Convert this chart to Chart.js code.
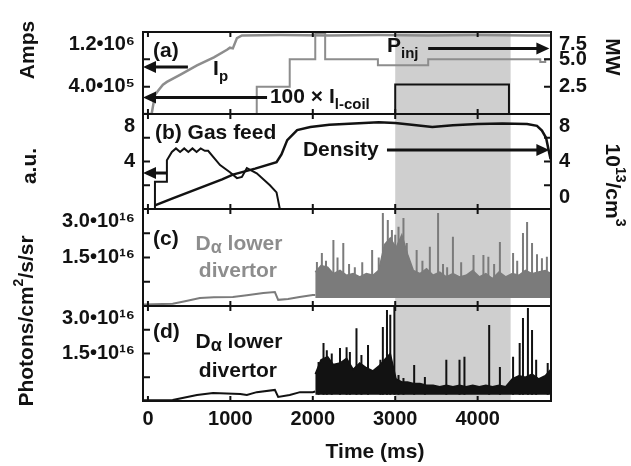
<!DOCTYPE html>
<html>
<head>
<meta charset="utf-8">
<script src="https://cdn.jsdelivr.net/npm/chart.js@4.4.1/dist/chart.umd.min.js"></script>
<style>
  body { margin: 0; background: #fff; }
  #wrap { position: relative; width: 631px; height: 466px; }
  #wrap canvas { position: absolute; left: 0; top: 0; }
</style>
</head>
<body>
<div id="wrap">
  <canvas id="pa" width="631" height="466"></canvas>
  <canvas id="pb" width="631" height="466"></canvas>
  <canvas id="pc" width="631" height="466"></canvas>
  <canvas id="pd" width="631" height="466"></canvas>
</div>
<script>
const FAM = "'Liberation Sans', Arial, Helvetica, sans-serif"
const INK = '#121212'
const GRAY = '#8d8d8d'
const DGRAY = '#7b7b7b'
const SHADE = '#cfcfcf'

// time axis (ms), shared by the four panels
const timeRange = [-60, 4890]
const timeTicks = [0, 1000, 2000, 3000, 4000]
const shadeWindow = [3000, 4400]

// (a) plasma current, injected power, 100 x I-coil current
const ipTime = [-60, 45, 85, 130, 182, 230, 400, 595, 800, 959, 995, 1030, 1080, 1140, 1600, 2200, 2800, 3400, 4000, 4600, 4890]
const ipAmps = [0, 0, 280000, 350000, 430000, 470000, 580000, 710000, 830000, 940000, 970000, 960000, 1110000, 1150000, 1155000, 1150000, 1155000, 1150000, 1155000, 1150000, 1150000]
const pinjTime = [-60, 1320, 1720, 2030, 2150, 2790, 3400, 4760, 4820, 4890]
const pinjMW = [0, 2.5, 5.0, 7.4, 5.0, 4.45, 5.0, 4.75, 5.0, 5.0]
const icoilTime = [-60, 3000, 4380, 4890]
const icoil100 = [0, 430000, 0, 0]
const ampsTicks = [0, 400000, 800000, 1200000]
const ampsLabels = ['', '4.0•10⁵', '', '1.2•10⁶']
const mwTicks = [0, 2.5, 5, 7.5]
const mwLabels = ['', '2.5', '5.0', '7.5']

// (b) gas feed (a.u.) and line density (10^13/cm^3)
const gasTime = [-60, 85, 85, 230, 230, 290, 340, 390, 440, 490, 540, 590, 640, 690, 730, 875, 995, 1080, 1140, 1200, 1320, 1480, 1560, 1600, 4890]
const gasFeed = [0, 0, 2.3, 2.3, 4.1, 4.8, 5.1, 4.8, 5.1, 4.8, 5.1, 4.8, 5.1, 4.9, 4.9, 3.7, 3.1, 2.6, 2.7, 3.45, 3.0, 2.0, 1.4, 0, 0]
const denTime = [85, 300, 600, 900, 1030, 1300, 1560, 1620, 1690, 1810, 1970, 2200, 2500, 2800, 3000, 3200, 3450, 3700, 4000, 4300, 4600, 4720, 4780, 4830, 4860, 4885]
const density = [0.3, 0.9, 1.7, 2.5, 2.9, 3.4, 3.95, 4.6, 5.8, 6.65, 6.9, 7.1, 7.2, 7.3, 7.25, 7.1, 6.9, 7.05, 7.15, 7.2, 7.15, 7.0, 6.6, 6.0, 5.0, 4.2]
const auTicks = [0, 2, 4, 6, 8]
const auLabels = ['', '', '4', '', '8']
const denLabels = ['0', '', '4', '', '8']

// (c), (d) D-alpha lower divertor, in units of 10^16 photons/cm^2/s/sr
const phTicks = [0, 0.75, 1.5, 2.25, 3]
const phLabels = ['', '', '1.5•10¹⁶', '', '3.0•10¹⁶']
const cBaseTime = [-60, 300, 450, 630, 800, 1030, 1200, 1400, 1540, 1580, 1700, 1840, 2000, 2030]
const cBase = [0.05, 0.07, 0.15, 0.25, 0.27, 0.28, 0.33, 0.4, 0.43, 0.19, 0.22, 0.28, 0.34, 0.34]
const dBaseTime = [-60, 300, 595, 790, 1120, 1200, 1320, 1540, 1580, 1720, 1845, 2000, 2030]
const dBase = [0.02, 0.03, 0.19, 0.25, 0.22, 0.19, 0.28, 0.35, 0.13, 0.19, 0.28, 0.28, 0.3]
const bandTime = [2030, 2100, 2180, 2250, 2330, 2410, 2490, 2570, 2650, 2730, 2800, 2870, 2940, 3010, 3080, 3150, 3220, 3300, 3380, 3460, 3540, 3620, 3700, 3780, 3860, 3940, 4020, 4100, 4180, 4260, 4340, 4420, 4500, 4580, 4660, 4740, 4820, 4890]
const cBandTop = [1.05, 1.25, 1.2, 1.0, 1.1, 0.95, 1.0, 0.9, 1.0, 0.95, 1.1, 1.9, 2.1, 1.8, 2.2, 1.6, 1.1, 1.0, 1.15, 0.95, 1.05, 0.9, 1.0, 0.9, 0.95, 1.1, 0.9, 1.0, 0.85, 1.05, 0.9, 1.0, 0.95, 1.1, 1.0, 1.05, 1.1, 1.0]
const dBandTop = [0.85, 1.3, 1.4, 1.15, 1.2, 1.35, 1.0, 1.2, 1.05, 0.95, 1.1, 1.3, 1.5, 0.7, 0.6, 0.6, 0.55, 0.55, 0.5, 0.5, 0.45, 0.5, 0.45, 0.5, 0.45, 0.5, 0.45, 0.5, 0.45, 0.5, 0.45, 0.7, 0.8, 0.75, 0.85, 0.7, 0.8, 1.0]
const cFloor = 0.25
const dFloor = 0.2
const cSpikeTime = [2050, 2110, 2160, 2250, 2300, 2370, 2440, 2510, 2600, 2720, 2800, 2850, 2910, 2960, 3000, 3040, 3100, 3140, 3260, 3330, 3420, 3520, 3580, 3630, 3700, 3800, 3950, 4070, 4130, 4200, 4270, 4430, 4480, 4550, 4600, 4660, 4720, 4780, 4840]
const cSpikePeak = [1.36, 1.64, 1.4, 2.04, 1.5, 1.95, 1.3, 1.2, 1.35, 1.73, 1.5, 2.88, 2.66, 2.35, 2.2, 2.45, 2.72, 1.95, 1.73, 1.4, 1.83, 2.88, 1.3, 1.2, 2.14, 1.35, 1.58, 1.58, 1.52, 1.3, 1.98, 1.64, 1.4, 2.26, 2.6, 1.95, 1.6, 1.48, 1.52]
const dSpikeTime = [2070, 2130, 2170, 2230, 2330, 2410, 2450, 2530, 2590, 2670, 2820, 2850, 2900, 2940, 2990, 3040, 3100, 3230, 3360, 3620, 3780, 3840, 4140, 4270, 4430, 4510, 4550, 4610, 4660, 4710, 4850]
const dSpikePeak = [1.23, 1.83, 1.6, 1.5, 1.67, 1.7, 1.55, 2.3, 1.45, 1.77, 1.3, 2.34, 2.87, 2.72, 3.2, 0.82, 0.73, 1.14, 0.76, 1.3, 1.3, 1.4, 2.4, 1.07, 1.4, 1.83, 2.62, 2.94, 2.24, 1.3, 1.2]

const pts = (xs, ys) => xs.map((x, i) => ({ x, y: ys[i] }))
const spikes = (ts, peaks, floor) => ts.flatMap((t, i) => [{ x: t, y: floor }, { x: t, y: peaks[i] }, { x: t, y: null }])
const tickFont = { family: FAM, size: 20, weight: 'bold' }

// labels sitting on a panel edge are nudged inside the panel, as in the figure
function edgeLabel(labels, i) {
  const s = labels[i]
  if (!s) return ''
  if (i === labels.length - 1) return ['', s]
  if (i === 0) return [s, '']
  return s
}

function yAxis(position, max, ticks, labels, width) {
  return {
    type: 'linear', position, min: 0, max,
    afterBuildTicks: s => { s.ticks = ticks.map(value => ({ value })) },
    afterFit: s => { s.width = width },
    grid: { display: false, drawTicks: false },
    border: { display: false },
    ticks: { color: INK, font: tickFont, padding: 8, autoSkip: false, callback: (v, i) => edgeLabel(labels, i) }
  }
}

function xAxis(show) {
  return {
    type: 'linear', min: timeRange[0], max: timeRange[1], display: show,
    afterBuildTicks: s => { s.ticks = timeTicks.map(value => ({ value })) },
    afterFit: s => { if (show) s.height = 65 },
    grid: { display: false, drawTicks: false },
    border: { display: false },
    ticks: { color: INK, font: tickFont, padding: 6, autoSkip: false, maxRotation: 0, callback: v => String(v) }
  }
}

const SIZES = { n: [21, 0], sub: [15, 7], sup: [14, -8], alpha: [18, 4] }
function rich(ctx, parts, x, y, align, color) {
  let w = 0
  parts.forEach(([t, k]) => { ctx.font = `bold ${SIZES[k][0]}px ${FAM}`; w += ctx.measureText(t).width })
  let cx = align === 'center' ? x - w / 2 : x
  ctx.textAlign = 'left'
  ctx.textBaseline = 'middle'
  ctx.fillStyle = color
  parts.forEach(([t, k]) => {
    ctx.font = `bold ${SIZES[k][0]}px ${FAM}`
    ctx.fillText(t, cx, y + SIZES[k][1])
    cx += ctx.measureText(t).width
  })
}

function arrow(ctx, x1, x2, y) {
  const dir = Math.sign(x2 - x1)
  ctx.beginPath()
  ctx.moveTo(x1, y); ctx.lineTo(x2 - dir * 8, y)
  ctx.lineWidth = 3
  ctx.stroke()
  ctx.beginPath()
  ctx.moveTo(x2, y); ctx.lineTo(x2 - dir * 13, y - 6); ctx.lineTo(x2 - dir * 13, y + 6)
  ctx.closePath()
  ctx.fill()
}

function deco(spec) {
  return {
    id: 'deco',
    beforeDatasetsDraw(chart) {
      const { ctx, chartArea: a, scales: { x } } = chart
      const x0 = x.getPixelForValue(shadeWindow[0]), x1 = x.getPixelForValue(shadeWindow[1])
      ctx.save()
      ctx.fillStyle = SHADE
      ctx.fillRect(x0, a.top, x1 - x0, a.bottom - a.top)
      ctx.restore()
    },
    afterDatasetsDraw(chart) {
      const { ctx, chartArea: a, scales } = chart
      ctx.save()
      ctx.strokeStyle = INK
      ctx.fillStyle = INK
      ctx.lineWidth = 2
      ctx.beginPath()
      timeTicks.forEach(t => {
        const px = scales.x.getPixelForValue(t)
        ctx.moveTo(px, a.top); ctx.lineTo(px, a.top + 5)
        ctx.moveTo(px, a.bottom); ctx.lineTo(px, a.bottom - 5)
      })
      Object.values(scales).filter(s => s.axis === 'y').forEach(s => {
        const edge = s.position === 'left' ? a.left : a.right
        const dir = s.position === 'left' ? 1 : -1
        s.ticks.forEach(tk => {
          if (tk.value <= s.min || tk.value >= s.max) return
          const py = s.getPixelForValue(tk.value)
          ctx.moveTo(edge, py); ctx.lineTo(edge + dir * 7, py)
        })
      })
      ctx.stroke()
      ctx.strokeRect(a.left, a.top, a.right - a.left, a.bottom - a.top)
      ;(spec.arrows || []).forEach(ar => {
        const y = scales[ar.axis].getPixelForValue(ar.v)
        arrow(ctx, scales.x.getPixelForValue(ar.from), scales.x.getPixelForValue(ar.to), y)
      })
      ;(spec.notes || []).forEach(n => {
        rich(ctx, n.parts, scales.x.getPixelForValue(n.t), scales[n.axis].getPixelForValue(n.v), n.align || 'left', n.color || INK)
      })
      ;(spec.titles || []).forEach(tt => {
        ctx.save()
        ctx.translate(tt.x, tt.y)
        ctx.rotate(tt.rot)
        rich(ctx, tt.parts, 0, 0, 'center', INK)
        ctx.restore()
      })
      ctx.restore()
    }
  }
}

function panel(id, top, bottom, right, scales, datasets, spec) {
  return new Chart(document.getElementById(id), {
    type: 'line',
    data: { datasets },
    options: {
      responsive: false,
      animation: false,
      events: [],
      layout: { padding: { top, bottom, left: 0, right } },
      elements: { point: { radius: 0 }, line: { tension: 0 } },
      plugins: { legend: { display: false }, tooltip: { enabled: false } },
      scales
    },
    plugins: [deco(spec)]
  })
}

const R = Math.PI / 2

panel('pa', 20, 352, 0,
  { x: xAxis(false), y: yAxis('left', 1200000, ampsTicks, ampsLabels, 143), y2: yAxis('right', 7.5, mwTicks, mwLabels, 80) },
  [
    { label: 'I_p', data: pts(ipTime, ipAmps), yAxisID: 'y', borderColor: GRAY, borderWidth: 2.5 },
    { label: 'P_inj', data: pts(pinjTime, pinjMW), yAxisID: 'y2', stepped: true, borderColor: GRAY, borderWidth: 2 },
    { label: '100 x I_l-coil', data: pts(icoilTime, icoil100), yAxisID: 'y', stepped: true, borderColor: INK, borderWidth: 2 }
  ],
  {
    notes: [
      { parts: [['(a)', 'n']], t: 61, v: 920000, axis: 'y' },
      { parts: [['I', 'n'], ['p', 'sub']], t: 790, v: 650000, axis: 'y' },
      { parts: [['100 × I', 'n'], ['l-coil', 'sub']], t: 1480, v: 243000, axis: 'y' },
      { parts: [['P', 'n'], ['inj', 'sub']], t: 2900, v: 985000, axis: 'y' }
    ],
    arrows: [
      { from: 485, to: -60, v: 689000, axis: 'y' },
      { from: 1445, to: -60, v: 243000, axis: 'y' },
      { from: 3400, to: 4870, v: 957000, axis: 'y' }
    ],
    titles: [
      { parts: [['Amps', 'n']], x: 28, y: 50, rot: -R },
      { parts: [['MW', 'n']], x: 612, y: 57, rot: R }
    ]
  })

panel('pb', 114, 257, 0,
  { x: xAxis(false), y: yAxis('left', 8, auTicks, auLabels, 143), y2: yAxis('right', 8, auTicks, denLabels, 80) },
  [
    { label: 'Gas feed', data: pts(gasTime, gasFeed), yAxisID: 'y', borderColor: INK, borderWidth: 2 },
    { label: 'Density', data: pts(denTime, density), yAxisID: 'y2', borderColor: INK, borderWidth: 2.5 }
  ],
  {
    notes: [
      { parts: [['(b) Gas feed', 'n']], t: 85, v: 6.4, axis: 'y' },
      { parts: [['Density', 'n']], t: 1880, v: 4.97, axis: 'y2' }
    ],
    arrows: [
      { from: 230, to: -60, v: 3.03, axis: 'y' },
      { from: 2900, to: 4870, v: 4.97, axis: 'y2' }
    ],
    titles: [
      { parts: [['a.u.', 'n']], x: 30, y: 166, rot: -R },
      { parts: [['10', 'n'], ['13', 'sup'], ['/cm', 'n'], ['3', 'sup']], x: 612, y: 185, rot: R }
    ]
  })

panel('pc', 209, 160, 80,
  { x: xAxis(false), y: yAxis('left', 3, phTicks, phLabels, 143) },
  [
    { label: 'D-alpha base', data: pts(cBaseTime, cBase), borderColor: DGRAY, borderWidth: 2 },
    { label: 'D-alpha band', data: pts(bandTime, cBandTop), borderColor: DGRAY, borderWidth: 1.5, backgroundColor: DGRAY, fill: { value: cFloor } },
    { label: 'D-alpha spikes', data: spikes(cSpikeTime, cSpikePeak, cFloor), borderColor: DGRAY, borderWidth: 2 }
  ],
  {
    notes: [
      { parts: [['(c)', 'n']], t: 61, v: 2.07, axis: 'y' },
      { parts: [['D', 'n'], ['α', 'alpha'], [' lower', 'n']], t: 1104, v: 1.92, axis: 'y', align: 'center', color: GRAY },
      { parts: [['divertor', 'n']], t: 1092, v: 1.08, axis: 'y', align: 'center', color: GRAY }
    ],
    titles: [
      { parts: [['Photons/cm', 'n'], ['2', 'sup'], ['/s/sr', 'n']], x: 27, y: 321, rot: -R }
    ]
  })

panel('pd', 306, 0, 80,
  { x: xAxis(true), y: yAxis('left', 3, phTicks, phLabels, 143) },
  [
    { label: 'D-alpha base', data: pts(dBaseTime, dBase), borderColor: INK, borderWidth: 2 },
    { label: 'D-alpha band', data: pts(bandTime, dBandTop), borderColor: INK, borderWidth: 1.5, backgroundColor: INK, fill: { value: dFloor } },
    { label: 'D-alpha spikes', data: spikes(dSpikeTime, dSpikePeak, dFloor), borderColor: INK, borderWidth: 2 }
  ],
  {
    notes: [
      { parts: [['(d)', 'n']], t: 61, v: 2.18, axis: 'y' },
      { parts: [['D', 'n'], ['α', 'alpha'], [' lower', 'n']], t: 1104, v: 1.86, axis: 'y', align: 'center' },
      { parts: [['divertor', 'n']], t: 1092, v: 0.95, axis: 'y', align: 'center' }
    ],
    titles: [
      { parts: [['Time (ms)', 'n']], x: 375, y: 452, rot: 0 }
    ]
  })
</script>
</body>
</html>
